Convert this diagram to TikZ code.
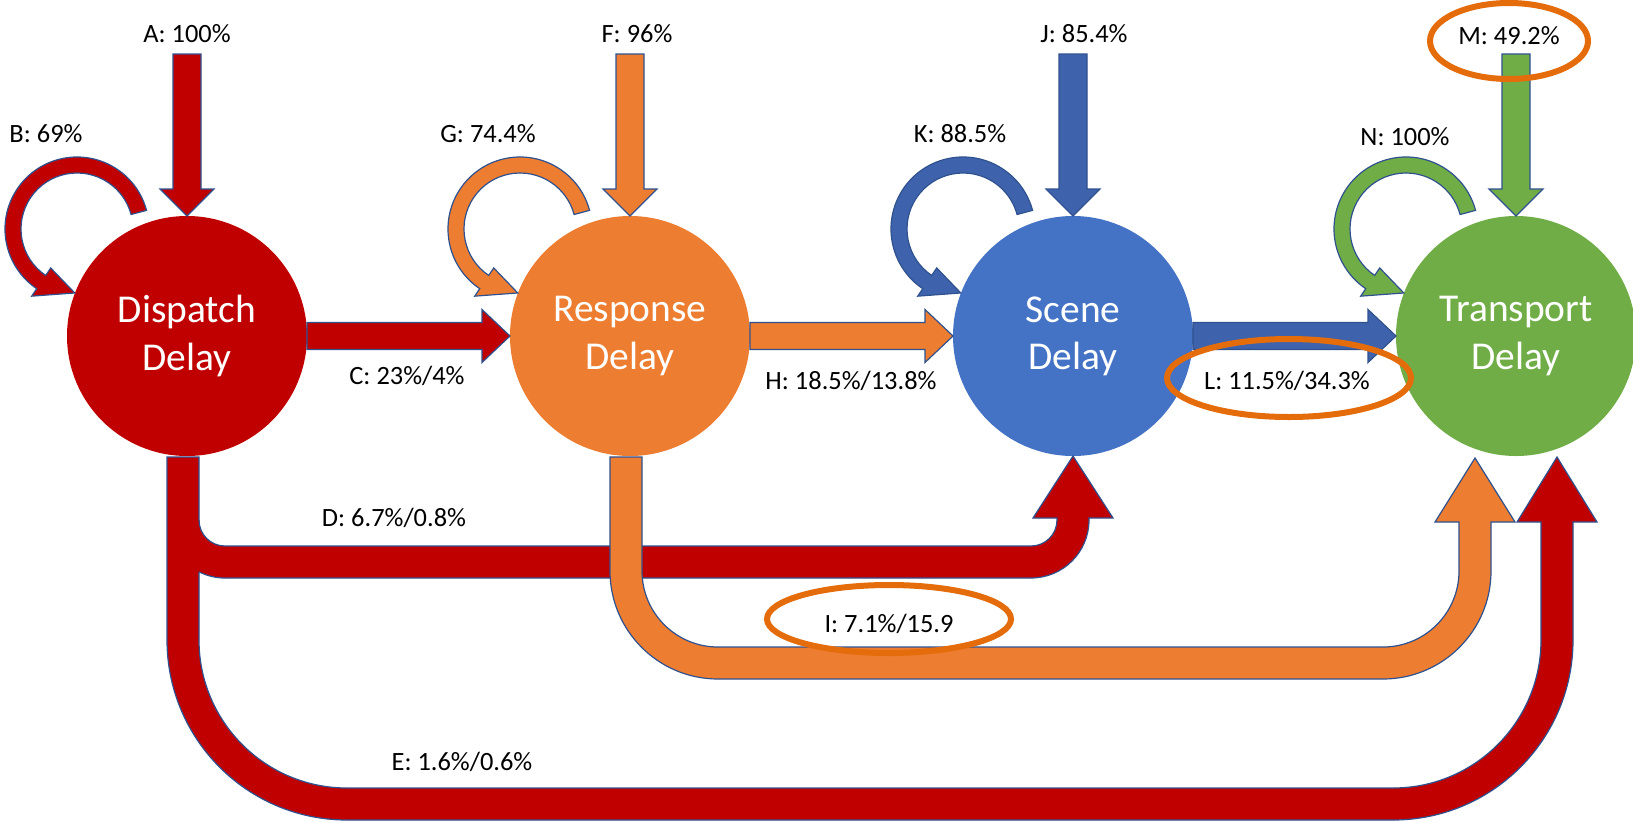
\documentclass[tikz,border=0pt]{standalone}
\usepackage{fontspec}
\setmainfont{Carlito}
\usetikzlibrary{calc}

\definecolor{dispred}{RGB}{192,0,0}
\definecolor{respor}{RGB}{237,125,49}
\definecolor{sceneblue}{RGB}{68,114,196}
\definecolor{scenearrow}{RGB}{62,99,172}
\definecolor{transgreen}{RGB}{112,173,71}
\definecolor{edgeblue}{RGB}{47,82,143}
\definecolor{ringor}{RGB}{228,108,10}

\tikzset{
	delay/.style={circle, minimum size=180pt, inner sep=0pt, outer sep=0pt, text=white, align=center, font=\fontsize{29.6}{35.3}\selectfont},
	lbl/.style={anchor=base, inner sep=0pt, font=\fontsize{19.8}{24}\selectfont},
	blockline/.style={draw=edgeblue, line width=0.9pt, line join=miter},
	ring/.style={draw=ringor, line width=4.5pt}
}

% arrow coming in from above
\newcommand{\inarrow}[2]{%
	\draw[blockline, fill=#2] ($(#1.north)+(-14,-162)$) -- ($(#1.north)+(-14,-27)$) -- ($(#1.north)+(-27,-27)$) -- (#1.north) -- ($(#1.north)+(27,-27)$) -- ($(#1.north)+(14,-27)$) -- ($(#1.north)+(14,-162)$) -- cycle;}

% straight arrow from one delay to the next
\newcommand{\steparrow}[3]{%
	\draw[blockline, fill=#3] ($(#1.east)+(0,-13.5)$) -- ($(#2.west)+(-28,-13.5)$) -- ($(#2.west)+(-28,-26.5)$) -- (#2.west) -- ($(#2.west)+(-28,26.5)$) -- ($(#2.west)+(-28,13.5)$) -- ($(#1.east)+(0,13.5)$) -- cycle;}

% loop back into the same delay
\newcommand{\selfloop}[2]{%
	\coordinate (lc) at ($(#1)+(-110,-107)$);
	\draw[blockline, fill=#2] ($(lc)+(-15:72)$) arc[start angle=-15, end angle=-236, radius=72] -- ($(lc)+(-236:81)$) -- ($(lc)+(-268:64)$) -- ($(lc)+(-236:47)$) -- ($(lc)+(-236:56)$) arc[start angle=-236, end angle=-15, radius=56] -- cycle;}

\begin{document}
\begin{tikzpicture}[x=0.75pt,y=0.75pt,yscale=-1,xscale=1]
	\useasboundingbox (0,0) rectangle (1633,821);
	
	%Delays
	\node[delay, fill=dispred] (disp) at (187,336) {Dispatch\\Delay};
	\node[delay, fill=respor] (resp) at (630,336) {Response\\Delay};
	\node[delay, fill=sceneblue] (scene) at (1073,336) {Scene\\Delay};
	\node[delay, fill=transgreen] (trans) at (1516,336) {Transport\\Delay};
	
	%Loops and arrows from above
	\selfloop{disp}{dispred}
	\selfloop{resp}{respor}
	\selfloop{scene}{scenearrow}
	\selfloop{trans}{transgreen}
	\inarrow{disp}{dispred}
	\inarrow{resp}{respor}
	\inarrow{scene}{scenearrow}
	\inarrow{trans}{transgreen}
	
	%Arrows between neighbours
	\steparrow{disp}{resp}{dispred}
	\steparrow{resp}{scene}{respor}
	\steparrow{scene}{trans}{scenearrow}
	
	%Shape: Dispatch to Transport (E)
	\draw[blockline, fill=dispred] (167,457) -- (167,640) arc[start angle=180, end angle=90, radius=180] -- (1393,820) arc[start angle=90, end angle=0, radius=180] -- (1573,522) -- (1597,522) -- (1557,457) -- (1517,522) -- (1541,522) -- (1541,640) arc[start angle=0, end angle=90, radius=148] -- (347,788) arc[start angle=90, end angle=180, radius=148] -- (199,457) -- cycle;
	
	%Shape: Dispatch to Scene (D), filled into the E bar, outlined apart
	\fill[dispred] (196,520) -- (199,520) arc[start angle=180, end angle=90, radius=26] -- (1031,546) arc[start angle=90, end angle=0, radius=26] -- (1057,518) -- (1033,518) -- (scene.south) -- (1113,518) -- (1089,518) -- (1089,520) arc[start angle=0, end angle=90, radius=58] -- (225,578) arc[start angle=90, end angle=116.6, radius=58] -- (196,572) -- cycle;
	\draw[blockline] (199,520) arc[start angle=180, end angle=90, radius=26] -- (1031,546) arc[start angle=90, end angle=0, radius=26] -- (1057,518) -- (1033,518) -- (scene.south) -- (1113,518) -- (1089,518) -- (1089,520) arc[start angle=0, end angle=90, radius=58] -- (225,578) arc[start angle=90, end angle=116.6, radius=58];
	
	%Shape: Response to Transport (I)
	\draw[blockline, fill=respor] (610,457) -- (610,571) arc[start angle=180, end angle=90, radius=108] -- (1383,679) arc[start angle=90, end angle=0, radius=108] -- (1491,522) -- (1515,522) -- (1475,458) -- (1435,522) -- (1459,522) -- (1459,571) arc[start angle=0, end angle=90, radius=76] -- (718,647) arc[start angle=90, end angle=180, radius=76] -- (642,457) -- cycle;
	
	%Labels
	\node[lbl] (labA) at (187,42) {A: 100\%};
	\node[lbl] (labB) at (46,142) {B: 69\%};
	\node[lbl] (labC) at (407,384) {C: 23\%/4\%};
	\node[lbl] (labD) at (394,526) {D: 6.7\%/0.8\%};
	\node[lbl] (labE) at (462,770) {E: 1.6\%/0.6\%};
	\node[lbl] (labF) at (637,42) {F: 96\%};
	\node[lbl] (labG) at (488,142) {G: 74.4\%};
	\node[lbl] (labH) at (851,389) {H: 18.5\%/13.8\%};
	\node[lbl] (labI) at (889,632) {I: 7.1\%/15.9};
	\node[lbl] (labJ) at (1084,42) {J: 85.4\%};
	\node[lbl] (labK) at (960,142) {K: 88.5\%};
	\node[lbl] (labL) at (1287,389) {L: 11.5\%/34.3\%};
	\node[lbl] (labM) at (1509,44) {M: 49.2\%};
	\node[lbl] (labN) at (1405,145) {N: 100\%};
	
	%Rings
	\draw[ring] (889,619) ellipse [x radius=122, y radius=34];
	\draw[ring] (1289,378) ellipse [x radius=122, y radius=39];
	\draw[ring] (1509,41) ellipse [x radius=79, y radius=38];
	
\end{tikzpicture}
\end{document}
